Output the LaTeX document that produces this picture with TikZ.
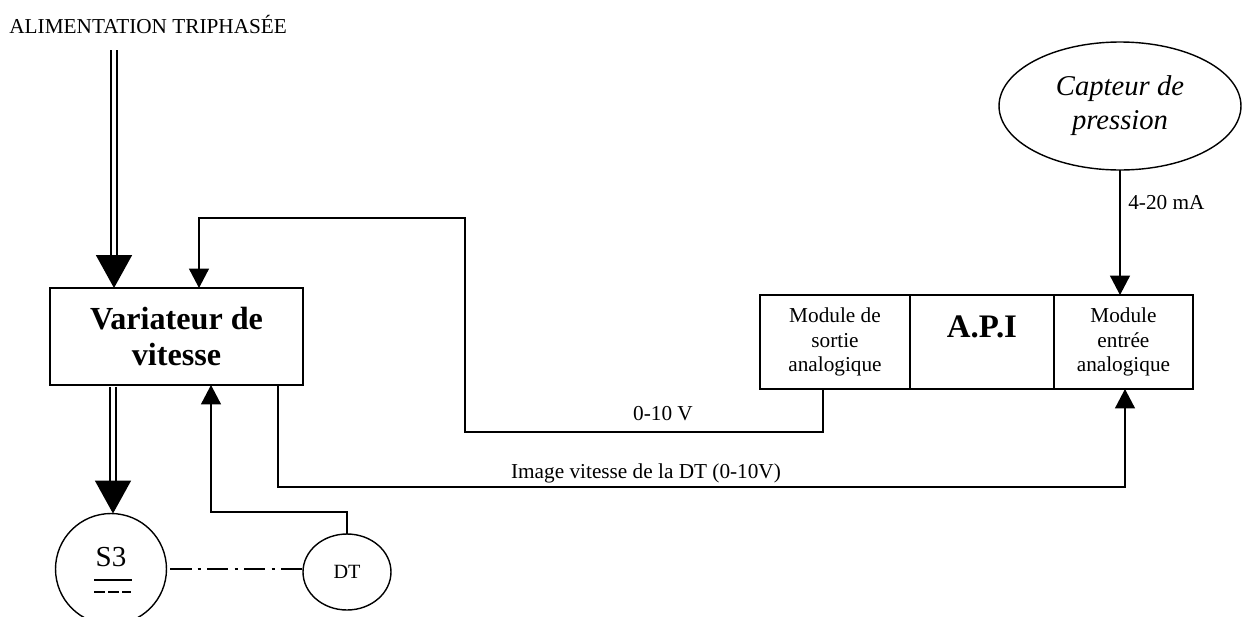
\documentclass[tikz,border=0pt]{standalone}
\usepackage{fontspec}
\setmainfont{Liberation Serif}
\usetikzlibrary{arrows.meta, positioning, shapes.geometric, calc}

\begin{document}
\begin{tikzpicture}[
x=0.02cm, y=-0.02cm,
box/.style={draw, line width=0.9pt, inner sep=0pt, outer sep=0pt, align=center},
modbox/.style={box, minimum height=1.88cm, font=\fontsize{12.1}{13.9}\selectfont},
blob/.style={draw, ellipse, line width=0.8pt, inner sep=0pt, outer sep=0pt, align=center},
label/.style={inner sep=0pt, font=\fontsize{12.1}{14}\selectfont},
arrow/.style={-{Triangle[length=3.9mm, width=4mm]}, line width=0.9pt},
power/.style={-{Triangle[length=6.6mm, width=7.2mm]}, double, double distance=2.2pt, line width=1pt},
wire/.style={line width=0.9pt}
]
\useasboundingbox (0,0) rectangle (1242,616);

\node[label, anchor=west] (alim) at (9,24) {ALIMENTATION TRIPHASÉE};
\coordinate (alimend) at (114,50);

\node[box, minimum width=5.06cm, minimum height=1.94cm, font=\bfseries\fontsize{18.3}{20}\selectfont] (var) at (176.5,336.5) {Variateur de\\vitesse};

\node[blob, circle, minimum size=2.22cm] (moteur) at (111,569) {};
\node[inner sep=0pt, font=\fontsize{16.5}{18}\selectfont] (s3) at (111,557) {S3};
\coordinate (barl) at (94,580);
\coordinate (barr) at (132,580);
\coordinate (dashl) at (94,592);
\coordinate (dashr) at (131,592);

\node[blob, minimum width=1.76cm, minimum height=1.52cm, font=\fontsize{11.5}{13}\selectfont] (dt) at (347,572) {DT};

\node[modbox, minimum width=3cm] (sortie) at (835,342) {Module de\\sortie\\analogique};
\node[modbox, minimum width=2.88cm, right=0pt of sortie] (api) {};
\node[modbox, minimum width=2.78cm, right=0pt of api] (entree) {Module\\entrée\\analogique};
\node[inner sep=0pt, font=\bfseries\fontsize{18.7}{20}\selectfont] (apilbl) at ($(api)+(0,-15)$) {A.P.I};

\node[blob, minimum width=4.84cm, minimum height=2.56cm, font=\itshape\fontsize{16.3}{19.3}\selectfont] (capteur) at (1120,106) {Capteur de\\pression};

\coordinate (conshaut) at (199,218);
\coordinate (consmil) at (465,218);
\coordinate (consbas) at (465,432);
\coordinate (imgbas) at (278,487);

\draw[power] (alimend) -- (alimend |- var.north);
\draw[power] ($(var.south -| alimend)+(-1,2)$) -- (113,0 |- moteur.north);

\draw[arrow] (sortie.south -| 823,0) -- (823,0 |- consbas) -- (consbas) -- (consmil) -- (conshaut) -- (conshaut |- var.north);
\draw[arrow] (var.south -| imgbas) -- (imgbas) -- (1125,0 |- imgbas) -- (1125,0 |- entree.south);
\draw[arrow] (dt.north) |- (211,512) -- (211,0 |- var.south);
\draw[arrow] (capteur.south) -- (capteur.south |- entree.north);

\draw[wire, dash pattern=on 12pt off 3.5pt on 2pt off 3.5pt] ($(moteur.east)+(4,0)$) -- (dt.west |- moteur.east);
\draw[line width=1.2pt] (barl) -- (barr);
\draw[line width=0.8pt, dash pattern=on 6pt off 2pt] (dashl) -- (dashr);

\node[label] (lblzero) at (663,414) {0-10 V};
\node[label] (lblimage) at (646,473) {Image vitesse de la DT (0-10V)};
\node[label, anchor=west] (lblmA) at (1128,203) {4-20 mA};
\end{tikzpicture}
\end{document}
